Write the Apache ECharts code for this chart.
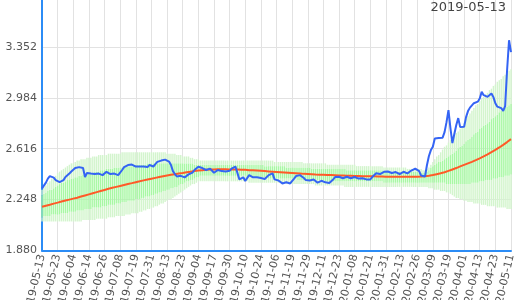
<!DOCTYPE html>
<html><head><meta charset="utf-8">
<script src="https://cdn.jsdelivr.net/npm/echarts@6/dist/echarts.min.js"></script>
<style>html,body{margin:0;padding:0;background:#fff}#c{width:520px;height:300px}</style>
</head><body><div id="c"></div>
<script>
const categories = [
"2019-05-13","2019-05-14","2019-05-15","2019-05-16","2019-05-17","2019-05-20","2019-05-21","2019-05-22","2019-05-23","2019-05-24","2019-05-27","2019-05-28","2019-05-29","2019-05-30","2019-05-31",
"2019-06-03","2019-06-04","2019-06-05","2019-06-06","2019-06-07","2019-06-10","2019-06-11","2019-06-12","2019-06-13","2019-06-14","2019-06-17","2019-06-18","2019-06-19","2019-06-20","2019-06-21","2019-06-24","2019-06-25","2019-06-26","2019-06-27","2019-06-28",
"2019-07-01","2019-07-02","2019-07-03","2019-07-04","2019-07-05","2019-07-08","2019-07-09","2019-07-10","2019-07-11","2019-07-12","2019-07-16","2019-07-17","2019-07-18","2019-07-19","2019-07-22","2019-07-23","2019-07-24","2019-07-25","2019-07-26","2019-07-29","2019-07-30","2019-07-31",
"2019-08-01","2019-08-02","2019-08-05","2019-08-06","2019-08-07","2019-08-08","2019-08-09","2019-08-13","2019-08-14","2019-08-15","2019-08-16","2019-08-19","2019-08-20","2019-08-21","2019-08-22","2019-08-23","2019-08-26","2019-08-27","2019-08-28","2019-08-29","2019-08-30",
"2019-09-02","2019-09-03","2019-09-04","2019-09-05","2019-09-06","2019-09-09","2019-09-10","2019-09-11","2019-09-12","2019-09-13","2019-09-17","2019-09-18","2019-09-19","2019-09-20","2019-09-24","2019-09-25","2019-09-26","2019-09-27","2019-09-30",
"2019-10-01","2019-10-02","2019-10-03","2019-10-04","2019-10-07","2019-10-08","2019-10-09","2019-10-10","2019-10-11","2019-10-15","2019-10-16","2019-10-17","2019-10-18","2019-10-21","2019-10-23","2019-10-24","2019-10-25","2019-10-28","2019-10-29","2019-10-30","2019-10-31",
"2019-11-01","2019-11-05","2019-11-06","2019-11-07","2019-11-08","2019-11-11","2019-11-13","2019-11-14","2019-11-15","2019-11-18","2019-11-19","2019-11-20","2019-11-21","2019-11-22","2019-11-25","2019-11-26","2019-11-27","2019-11-28","2019-11-29",
"2019-12-02","2019-12-03","2019-12-04","2019-12-05","2019-12-06","2019-12-09","2019-12-10","2019-12-11","2019-12-12","2019-12-13","2019-12-16","2019-12-17","2019-12-18","2019-12-19","2019-12-20","2019-12-23","2019-12-24","2019-12-25","2019-12-26","2019-12-27","2019-12-30",
"2020-01-06","2020-01-07","2020-01-08","2020-01-09","2020-01-10","2020-01-14","2020-01-15","2020-01-16","2020-01-17","2020-01-20","2020-01-21","2020-01-22","2020-01-23","2020-01-24","2020-01-27","2020-01-28","2020-01-29","2020-01-30","2020-01-31",
"2020-02-03","2020-02-04","2020-02-05","2020-02-06","2020-02-07","2020-02-10","2020-02-12","2020-02-13","2020-02-14","2020-02-17","2020-02-18","2020-02-19","2020-02-20","2020-02-21","2020-02-25","2020-02-26","2020-02-27","2020-02-28",
"2020-03-02","2020-03-03","2020-03-04","2020-03-05","2020-03-06","2020-03-09","2020-03-10","2020-03-11","2020-03-12","2020-03-13","2020-03-16","2020-03-17","2020-03-18","2020-03-19","2020-03-23","2020-03-24","2020-03-25","2020-03-26","2020-03-27","2020-03-30","2020-03-31",
"2020-04-01","2020-04-02","2020-04-03","2020-04-06","2020-04-07","2020-04-08","2020-04-09","2020-04-10","2020-04-13","2020-04-14","2020-04-15","2020-04-16","2020-04-17","2020-04-20","2020-04-21","2020-04-22","2020-04-23","2020-04-24","2020-04-27","2020-04-28","2020-04-30",
"2020-05-01","2020-05-07","2020-05-08","2020-05-11"
];

const actual = [
2.329,2.342,2.371,2.400,2.418,2.425,2.407,2.389,2.378,2.375,
2.371,2.389,2.411,2.422,2.436,2.451,2.465,2.476,2.480,2.483,
2.480,2.476,2.411,2.440,2.433,2.436,2.442,2.433,2.425,2.436,
2.440,2.425,2.436,2.449,2.440,2.433,2.447,2.436,2.425,2.425,
2.433,2.462,2.483,2.494,2.498,2.503,2.501,2.498,2.487,2.474,
2.487,2.498,2.487,2.476,2.483,2.498,2.494,2.487,2.505,2.521,
2.526,2.530,2.534,2.537,2.541,2.523,2.498,2.454,2.433,2.415,
2.415,2.420,2.418,2.409,2.422,2.430,2.430,2.443,2.462,2.476,
2.485,2.485,2.476,2.474,2.462,2.462,2.472,2.474,2.442,2.451,
2.462,2.462,2.454,2.449,2.451,2.454,2.456,2.472,2.485,2.487,
2.485,2.394,2.404,2.409,2.382,2.389,2.425,2.415,2.409,2.411,
2.409,2.407,2.404,2.402,2.397,2.394,2.425,2.433,2.438,2.394,
2.389,2.386,2.378,2.365,2.371,2.373,2.368,2.365,2.378,2.400,
2.418,2.422,2.425,2.418,2.404,2.389,2.386,2.386,2.384,2.393,
2.386,2.371,2.378,2.384,2.378,2.373,2.382,2.368,2.378,2.394,
2.411,2.418,2.413,2.407,2.402,2.411,2.413,2.407,2.402,2.409,
2.411,2.413,2.400,2.394,2.402,2.400,2.394,2.394,2.394,2.411,
2.425,2.438,2.435,2.433,2.443,2.449,2.458,2.451,2.438,2.440,
2.442,2.447,2.440,2.433,2.443,2.449,2.443,2.438,2.451,2.458,
2.465,2.472,2.480,2.454,2.422,2.409,2.415,2.498,2.563,2.606,
2.630,2.690,2.678,2.693,2.702,2.696,2.736,2.808,2.895,2.765,
2.657,2.649,2.787,2.837,2.772,2.783,2.774,2.844,2.888,2.913,
2.924,2.945,2.938,2.956,2.979,3.027,3.003,2.996,2.991,3.003,
3.015,2.989,2.945,2.920,2.907,2.909,2.890,2.924,3.184,3.400,
3.314
];

const median = [
2.196,2.200,2.204,2.207,2.211,2.215,2.219,2.222,2.226,2.230,
2.234,2.237,2.241,2.244,2.248,2.251,2.255,2.259,2.262,2.266,
2.270,2.274,2.278,2.282,2.286,2.290,2.294,2.298,2.302,2.306,
2.310,2.314,2.318,2.322,2.326,2.329,2.333,2.336,2.340,2.343,
2.347,2.350,2.354,2.357,2.361,2.364,2.367,2.370,2.374,2.377,
2.380,2.383,2.387,2.390,2.393,2.396,2.399,2.402,2.405,2.408,
2.411,2.414,2.417,2.419,2.422,2.425,2.427,2.430,2.432,2.435,
2.437,2.439,2.441,2.444,2.446,2.448,2.450,2.452,2.454,2.456,
2.458,2.460,2.461,2.462,2.463,2.464,2.465,2.466,2.466,2.467,
2.467,2.467,2.467,2.467,2.467,2.467,2.466,2.466,2.466,2.465,
2.465,2.464,2.464,2.463,2.463,2.462,2.461,2.461,2.460,2.459,
2.458,2.457,2.456,2.455,2.454,2.453,2.452,2.451,2.450,2.449,
2.448,2.447,2.446,2.445,2.444,2.443,2.442,2.441,2.440,2.439,
2.438,2.437,2.436,2.435,2.434,2.433,2.433,2.432,2.431,2.430,
2.429,2.429,2.428,2.427,2.427,2.426,2.426,2.425,2.425,2.424,
2.424,2.423,2.423,2.422,2.422,2.421,2.421,2.420,2.420,2.419,
2.419,2.418,2.418,2.418,2.417,2.417,2.417,2.416,2.416,2.416,
2.416,2.415,2.415,2.415,2.415,2.414,2.414,2.414,2.414,2.414,
2.413,2.413,2.413,2.413,2.413,2.413,2.413,2.413,2.413,2.413,
2.413,2.413,2.414,2.414,2.415,2.416,2.417,2.419,2.421,2.423,
2.426,2.429,2.432,2.435,2.438,2.442,2.446,2.451,2.456,2.461,
2.466,2.471,2.476,2.481,2.488,2.494,2.499,2.504,2.510,2.515,
2.521,2.527,2.533,2.539,2.546,2.553,2.560,2.568,2.575,2.583,
2.591,2.599,2.607,2.616,2.625,2.634,2.644,2.654,2.664,2.674,
2.685
];

const outerHigh = [
2.32,2.34,2.35,2.37,2.38,2.40,2.41,2.42,2.44,2.45,
2.46,2.47,2.48,2.49,2.50,2.51,2.51,2.52,2.53,2.53,
2.54,2.54,2.54,2.55,2.55,2.55,2.56,2.56,2.56,2.57,
2.57,2.57,2.57,2.57,2.58,2.58,2.58,2.58,2.58,2.58,
2.58,2.59,2.59,2.59,2.59,2.59,2.59,2.59,2.59,2.59,
2.59,2.59,2.59,2.59,2.59,2.59,2.59,2.59,2.59,2.59,
2.59,2.59,2.59,2.59,2.58,2.58,2.58,2.58,2.58,2.57,
2.57,2.57,2.56,2.56,2.56,2.56,2.55,2.55,2.54,2.54,
2.54,2.53,2.53,2.53,2.53,2.53,2.53,2.53,2.53,2.53,
2.53,2.53,2.53,2.53,2.53,2.53,2.53,2.53,2.53,2.53,
2.53,2.53,2.53,2.53,2.53,2.53,2.53,2.53,2.53,2.53,
2.53,2.53,2.53,2.53,2.53,2.53,2.53,2.53,2.53,2.52,
2.52,2.52,2.52,2.52,2.52,2.52,2.52,2.52,2.52,2.52,
2.52,2.52,2.52,2.52,2.51,2.51,2.51,2.51,2.51,2.51,
2.51,2.51,2.51,2.51,2.51,2.51,2.50,2.50,2.50,2.50,
2.50,2.50,2.50,2.50,2.50,2.50,2.50,2.50,2.50,2.50,
2.50,2.49,2.49,2.49,2.49,2.49,2.49,2.49,2.49,2.49,
2.49,2.49,2.49,2.49,2.49,2.48,2.48,2.48,2.48,2.48,
2.48,2.48,2.48,2.48,2.48,2.48,2.48,2.47,2.47,2.47,
2.47,2.47,2.47,2.47,2.47,2.46,2.46,2.47,2.48,2.50,
2.52,2.54,2.56,2.57,2.59,2.61,2.63,2.64,2.66,2.68,
2.69,2.71,2.73,2.74,2.76,2.78,2.80,2.83,2.85,2.87,
2.89,2.91,2.93,2.94,2.96,2.98,2.99,3.01,3.02,3.04,
3.05,3.07,3.08,3.10,3.11,3.12,3.14,3.15,3.16,3.18,
3.19
];

const innerHigh = [
2.28,2.29,2.30,2.31,2.32,2.32,2.33,2.34,2.35,2.36,
2.37,2.37,2.38,2.39,2.39,2.40,2.40,2.41,2.41,2.42,
2.42,2.43,2.43,2.43,2.44,2.44,2.44,2.45,2.45,2.45,
2.46,2.46,2.46,2.47,2.47,2.47,2.47,2.48,2.48,2.48,
2.48,2.48,2.49,2.49,2.49,2.49,2.49,2.50,2.50,2.50,
2.50,2.50,2.50,2.50,2.51,2.51,2.51,2.51,2.51,2.51,
2.51,2.51,2.51,2.51,2.51,2.51,2.51,2.51,2.51,2.51,
2.51,2.51,2.51,2.51,2.51,2.51,2.51,2.51,2.50,2.50,
2.50,2.50,2.50,2.50,2.50,2.50,2.50,2.50,2.50,2.50,
2.50,2.50,2.50,2.50,2.50,2.50,2.50,2.50,2.50,2.50,
2.50,2.50,2.50,2.50,2.50,2.50,2.50,2.50,2.50,2.50,
2.50,2.50,2.50,2.50,2.49,2.49,2.49,2.49,2.49,2.49,
2.49,2.49,2.49,2.49,2.49,2.48,2.48,2.48,2.48,2.48,
2.48,2.48,2.48,2.48,2.48,2.48,2.48,2.48,2.47,2.47,
2.47,2.47,2.47,2.47,2.47,2.47,2.47,2.47,2.47,2.47,
2.47,2.47,2.47,2.47,2.47,2.47,2.46,2.46,2.46,2.46,
2.46,2.46,2.46,2.46,2.46,2.46,2.46,2.46,2.46,2.46,
2.46,2.46,2.46,2.46,2.46,2.45,2.45,2.45,2.45,2.45,
2.45,2.45,2.45,2.45,2.45,2.45,2.45,2.45,2.45,2.45,
2.45,2.45,2.45,2.44,2.44,2.44,2.44,2.45,2.46,2.48,
2.49,2.50,2.51,2.52,2.52,2.53,2.54,2.55,2.56,2.57,
2.58,2.59,2.60,2.62,2.63,2.64,2.65,2.67,2.68,2.69,
2.70,2.72,2.73,2.74,2.76,2.77,2.78,2.79,2.80,2.81,
2.83,2.84,2.85,2.86,2.88,2.89,2.90,2.91,2.92,2.93,
2.94
];

const innerLow = [
2.12,2.13,2.13,2.13,2.13,2.14,2.14,2.14,2.14,2.14,
2.15,2.15,2.15,2.15,2.16,2.16,2.16,2.16,2.17,2.17,
2.17,2.17,2.18,2.18,2.18,2.18,2.19,2.19,2.19,2.19,
2.19,2.20,2.20,2.20,2.21,2.21,2.21,2.21,2.22,2.22,
2.22,2.23,2.23,2.23,2.24,2.24,2.24,2.24,2.25,2.25,
2.25,2.26,2.26,2.27,2.27,2.27,2.28,2.28,2.29,2.29,
2.30,2.30,2.31,2.31,2.32,2.32,2.33,2.33,2.34,2.34,
2.35,2.36,2.36,2.37,2.38,2.38,2.39,2.39,2.40,2.41,
2.41,2.42,2.42,2.42,2.42,2.42,2.42,2.42,2.42,2.42,
2.42,2.42,2.42,2.42,2.42,2.42,2.42,2.42,2.42,2.42,
2.42,2.42,2.42,2.42,2.42,2.41,2.41,2.41,2.41,2.41,
2.41,2.41,2.41,2.41,2.41,2.41,2.40,2.40,2.40,2.40,
2.40,2.40,2.40,2.40,2.40,2.40,2.40,2.40,2.40,2.40,
2.40,2.39,2.39,2.39,2.39,2.39,2.39,2.39,2.39,2.39,
2.39,2.39,2.39,2.39,2.39,2.38,2.38,2.38,2.38,2.38,
2.38,2.38,2.38,2.38,2.38,2.38,2.38,2.38,2.38,2.38,
2.38,2.38,2.38,2.38,2.38,2.38,2.38,2.38,2.38,2.38,
2.38,2.38,2.38,2.38,2.38,2.37,2.37,2.37,2.37,2.37,
2.37,2.37,2.37,2.37,2.37,2.37,2.37,2.37,2.37,2.37,
2.37,2.37,2.37,2.37,2.37,2.37,2.37,2.37,2.37,2.37,
2.37,2.37,2.37,2.37,2.37,2.37,2.37,2.36,2.36,2.36,
2.36,2.36,2.36,2.36,2.36,2.36,2.36,2.36,2.36,2.36,
2.37,2.37,2.37,2.37,2.38,2.38,2.38,2.39,2.39,2.39,
2.39,2.40,2.40,2.40,2.41,2.41,2.41,2.42,2.42,2.42,
2.43
];

const outerLow = [
2.09,2.09,2.09,2.09,2.09,2.09,2.09,2.09,2.09,2.09,
2.09,2.09,2.09,2.09,2.09,2.09,2.09,2.09,2.09,2.09,
2.09,2.10,2.10,2.10,2.10,2.10,2.10,2.10,2.11,2.11,
2.11,2.11,2.11,2.11,2.12,2.12,2.12,2.12,2.13,2.13,
2.13,2.13,2.13,2.14,2.14,2.14,2.15,2.15,2.15,2.15,
2.16,2.16,2.17,2.17,2.18,2.18,2.19,2.19,2.20,2.20,
2.21,2.22,2.22,2.23,2.24,2.25,2.25,2.26,2.27,2.28,
2.29,2.30,2.31,2.32,2.33,2.34,2.35,2.36,2.36,2.37,
2.38,2.38,2.38,2.38,2.38,2.38,2.38,2.38,2.38,2.38,
2.38,2.38,2.38,2.38,2.38,2.38,2.38,2.38,2.38,2.38,
2.38,2.38,2.38,2.38,2.38,2.38,2.37,2.37,2.37,2.37,
2.37,2.37,2.37,2.37,2.37,2.37,2.37,2.37,2.37,2.37,
2.37,2.37,2.37,2.37,2.37,2.36,2.36,2.36,2.36,2.36,
2.36,2.36,2.36,2.36,2.36,2.36,2.36,2.36,2.36,2.36,
2.35,2.35,2.35,2.35,2.35,2.35,2.35,2.35,2.35,2.35,
2.35,2.35,2.35,2.35,2.35,2.34,2.34,2.34,2.34,2.34,
2.34,2.34,2.34,2.34,2.34,2.34,2.34,2.34,2.34,2.34,
2.34,2.34,2.34,2.34,2.34,2.34,2.34,2.34,2.34,2.34,
2.34,2.34,2.34,2.34,2.34,2.34,2.34,2.34,2.34,2.34,
2.34,2.34,2.34,2.34,2.34,2.34,2.34,2.34,2.33,2.33,
2.33,2.32,2.32,2.32,2.31,2.31,2.31,2.30,2.30,2.29,
2.28,2.27,2.26,2.26,2.25,2.25,2.24,2.24,2.23,2.23,
2.23,2.22,2.22,2.22,2.22,2.21,2.21,2.21,2.20,2.20,
2.20,2.20,2.20,2.19,2.19,2.19,2.19,2.19,2.18,2.18,
2.18
];

const yTicks = { min: 1.88, max: 3.72, interval: 0.368 };
const titleText = "2019-05-13";

const r = v => Math.round(v * 10000) / 10000;
const base = outerLow.slice();
const lowBand = innerLow.map((v, i) => r(v - outerLow[i]));
const midBand = innerHigh.map((v, i) => r(v - innerLow[i]));
const highBand = outerHigh.map((v, i) => r(v - innerHigh[i]));

const FONT = "DejaVu Sans";
const AXIS_BLUE = "#2b8cf6";
const PALE = "#d3f5cd";
const BRIGHT = "#a8f8a4";

const barCommon = { type: "bar", stack: "band", barWidth: "72%", silent: true, emphasis: { disabled: true } };

const chart = echarts.init(document.getElementById("c"), null, { renderer: "canvas" });
chart.setOption({
  animation: false,
  backgroundColor: "#ffffff",
  title: {
    text: titleText, right: 9, top: -4,
    textStyle: { fontFamily: FONT, fontSize: 13, fontWeight: "normal", color: "#444" }
  },
  grid: { left: 42, right: 9, top: -4, bottom: 49.5, containLabel: false, outerBoundsMode: "none" },
  xAxis: {
    type: "category",
    data: categories,
    boundaryGap: false,
    axisLine: { show: true, lineStyle: { color: AXIS_BLUE, width: 2 } },
    axisTick: { show: false },
    axisLabel: { interval: 7, rotate: 77, margin: 4, hideOverlap: false, fontFamily: FONT, fontSize: 11, color: "#555" },
    splitLine: { show: true, interval: 7, lineStyle: { color: "#e2e2e2", width: 1 } }
  },
  yAxis: {
    type: "value",
    min: yTicks.min, max: yTicks.max, interval: yTicks.interval,
    axisLine: { show: true, lineStyle: { color: AXIS_BLUE, width: 2 } },
    axisTick: { show: false },
    axisLabel: { showMaxLabel: false, margin: 5, fontFamily: FONT, fontSize: 11, color: "#555",
      formatter: v => v.toFixed(3) },
    splitLine: { show: true, lineStyle: { color: "#e2e2e2", width: 1 } }
  },
  series: [
    Object.assign({}, barCommon, { name: "base", data: base, itemStyle: { color: "rgba(0,0,0,0)" } }),
    Object.assign({}, barCommon, { name: "lower", data: lowBand, itemStyle: { color: PALE } }),
    Object.assign({}, barCommon, { name: "inner", data: midBand, itemStyle: { color: BRIGHT } }),
    Object.assign({}, barCommon, { name: "upper", data: highBand, itemStyle: { color: PALE } }),
    { type: "line", name: "median", data: median, showSymbol: false, smooth: false,
      lineStyle: { color: "#ff5a28", width: 2 }, itemStyle: { color: "#ff5a28" }, z: 3 },
    { type: "line", name: "actual", data: actual, showSymbol: false, smooth: false,
      lineStyle: { color: "#3464f4", width: 2 }, itemStyle: { color: "#3464f4" }, z: 4 }
  ]
});
</script>
</body></html>
